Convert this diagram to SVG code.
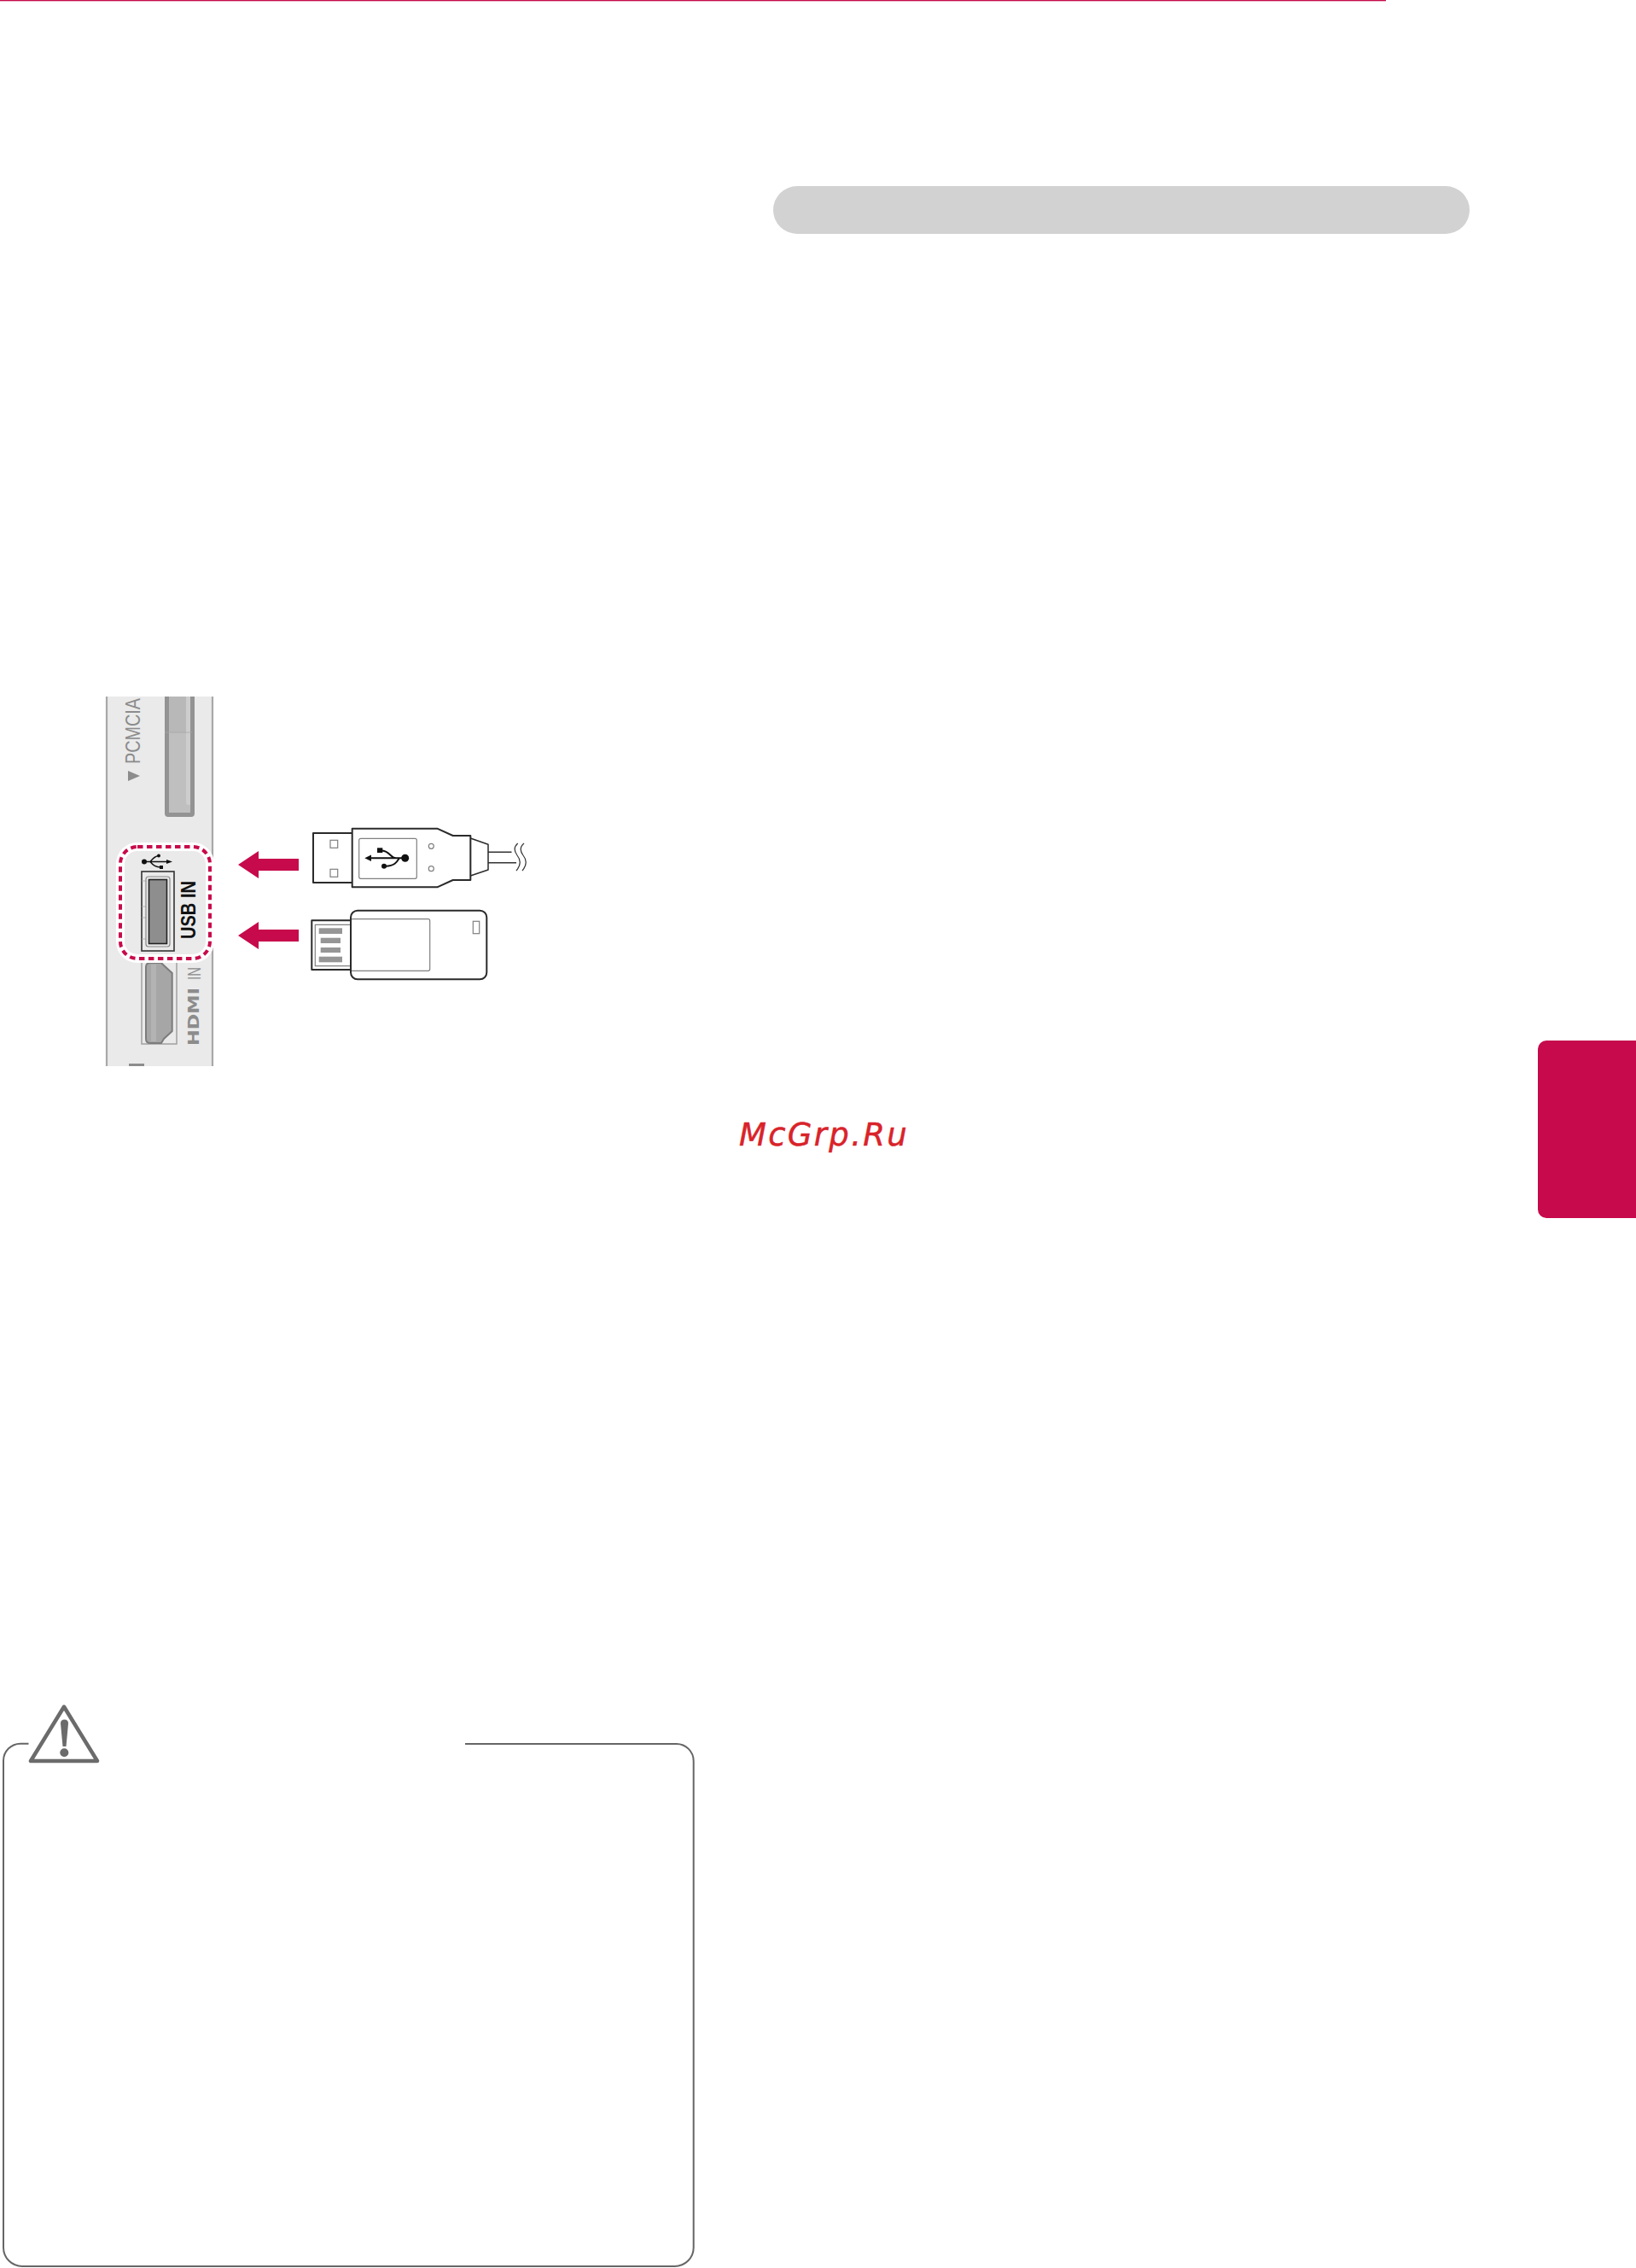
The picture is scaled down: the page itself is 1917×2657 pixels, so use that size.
<svg xmlns="http://www.w3.org/2000/svg" width="1917" height="2657" viewBox="0 0 1917 2657">
<style>
.acc{fill:#c60a4b}
.dark{fill:#fff;stroke:#2a2a2a;stroke-width:2;stroke-linejoin:round}
.thin{fill:#fff;stroke:#808080;stroke-width:1.2}
.bar{fill:#969696}
.lab{font-family:"Liberation Sans",Arial,sans-serif;fill:#8c8c8c}
.sym{fill:none;stroke:#111;stroke-width:2}
</style>
<rect width="1917" height="2657" fill="#fff"/>
<rect id="top-rule" width="1624" height="1.3" class="acc"/>
<rect id="heading-bar" x="906" y="218" width="816" height="56" rx="28" ry="28" fill="#d2d2d2"/>
<path id="side-tab" class="acc" d="M1917,1219H1812a10,10 0 0 0 -10,10V1417a10,10 0 0 0 10,10H1917Z"/>
<text id="watermark" x="866" y="1342" font-family="DejaVu Sans,sans-serif" font-style="italic" font-size="37" letter-spacing="2.3" fill="#d9232a" stroke="#d9232a" stroke-width="0.5">McGrp.Ru</text>

<g id="tv-panel">
<rect x="125" y="816" width="124" height="433" fill="#eaeaea"/>
<path d="M125,816V1249M249,816V1249" stroke="#a8a8a8" stroke-width="2.2" fill="none"/>
<rect x="151" y="1246" width="18" height="3" fill="#8c8c8c"/>
</g>
<g id="pcmcia-slot">
<path d="M193,816H228V953a4,4 0 0 1 -4,4H197a4,4 0 0 1 -4,-4Z" fill="#939393"/>
<rect x="198" y="816" width="25" height="136" fill="#bfbfbf"/>
<rect x="198" y="816" width="25" height="42" fill="#b8b8b8"/>
<path d="M218,816H223V943H221Q218,943 218,940Z" fill="#cdcdcd"/>
<path d="M193,858H225" stroke="#a6a6a6" stroke-width="0.8"/>
<text class="lab" transform="translate(164,895) rotate(-90)" font-size="23" textLength="77" lengthAdjust="spacingAndGlyphs">PCMCIA</text>
<polygon points="150,903 164,909 150,915" fill="#8c8c8c"/>
</g>
<g id="hdmi-port">
<rect x="166" y="1122" width="41" height="101" fill="none" stroke="#a0a0a0" stroke-width="1.5"/>
<path d="M176,1128H189L192,1131L201.7,1140V1208L192,1217L189,1222H176Q171,1222 171,1217V1133Q171,1128 176,1128Z" fill="#a6a6a6" stroke="#7c7c7c" stroke-width="2"/>
<rect x="177" y="1130" width="6" height="90" fill="#b3b3b3"/>
<text class="lab" transform="translate(235,1148) rotate(-90)" font-size="22" textLength="15" lengthAdjust="spacingAndGlyphs">IN</text>
<text class="lab" transform="translate(233,1225) rotate(-90)" font-size="17.5" textLength="68" lengthAdjust="spacingAndGlyphs" style="font-family:'DejaVu Sans',sans-serif;font-weight:bold">HDMI</text>
</g>
<g id="usb-port">
<rect x="141" y="992" width="105" height="131" rx="20" fill="#eaeaea" stroke="#fff" stroke-width="10"/>
<rect x="141" y="992" width="105" height="131" rx="20" fill="none" stroke="#c80a4b" stroke-width="4" stroke-dasharray="6.5 4.5"/>
<rect x="166" y="1021" width="38" height="93" fill="none" stroke="#333" stroke-width="1.6"/>
<path d="M166,1032H171M166,1062H171M166,1075H171M166,1100H171" stroke="#aaa" stroke-width="0.8"/>
<rect x="171" y="1027" width="28" height="82" rx="3" fill="#eaeaea" stroke="#888" stroke-width="1.2"/>
<rect x="174.5" y="1030.5" width="21" height="75" fill="#8e8e8e" stroke="#222" stroke-width="1.6"/>
<g>
<circle cx="169" cy="1009.5" r="3" fill="#111"/>
<path class="sym" style="stroke-width:1.4" d="M169,1009.5H197M176,1009.5Q181,1003 186,1002.5M176,1009.5Q181,1016 188,1016"/>
<polygon points="202,1009.5 195,1007 195,1012" fill="#111"/>
<circle cx="186" cy="1002.5" r="2" fill="#111"/>
<rect x="187" y="1014" width="4" height="4" fill="#111"/>
</g>
<text transform="translate(229,1100) rotate(-90)" font-family="Liberation Sans,Arial,sans-serif" font-weight="bold" font-size="23" textLength="68" lengthAdjust="spacingAndGlyphs" fill="#111">USB IN</text>
</g>
<g id="connectors">
<polygon class="acc" points="279,1013 303,997 303,1006 350,1006 350,1020 303,1020 303,1029"/>
<polygon class="acc" points="279,1096 303,1080 303,1089 350,1089 350,1103 303,1103 303,1112"/>
</g>
<g id="usb-plug">
<path d="M572,998.3H599.5M572,1010.7H605" stroke="#333" stroke-width="1.4" fill="none"/>
<path d="M606.7,988C601,993 603,998 606,1002C610,1007 611,1013 605,1020M614,988C608,993 610,998 613,1002C617,1007 618,1013 612,1020" stroke="#333" stroke-width="1.2" fill="none"/>
<rect class="dark" x="367" y="976" width="46" height="58"/>
<rect class="thin" x="387" y="984.3" width="8.7" height="9"/>
<rect class="thin" x="387" y="1018.3" width="8.7" height="9"/>
<polygon class="dark" style="stroke-width:1.5" points="551.3,982 572,989.3 572,1019 551.3,1026"/>
<polygon class="dark" points="412.7,970.7 512.3,970.7 530.7,979 551.3,979 551.3,1031 530.7,1031 512.3,1039.3 412.7,1039.3"/>
<rect class="thin" x="420.7" y="982.3" width="67.6" height="47" rx="2"/>
<circle class="thin" cx="505.3" cy="991.3" r="3"/>
<circle class="thin" cx="505.3" cy="1017.7" r="3"/>
<circle cx="474.7" cy="1005.3" r="4.5" fill="#111"/>
<path class="sym" d="M432,1005.3H474M448,996.5C456,997 458,1005 464,1005.3M452,1014.7C462,1014.7 465,1010 468,1005.3"/>
<polygon points="427.3,1005.3 435,1001.5 435,1009" fill="#111"/>
<rect x="442" y="993.3" width="6.3" height="5.7" fill="#111"/>
<circle cx="450" cy="1014.7" r="3" fill="#111"/>
</g>
<g id="usb-stick">
<rect class="dark" x="365.3" y="1078.3" width="47" height="57.7"/>
<path d="M412,1083.3H369.3V1131.7H412" fill="none" stroke="#808080" stroke-width="1.2"/>
<rect class="bar" x="373.7" y="1087.3" width="27.3" height="6.7"/>
<rect class="bar" x="375.7" y="1098.7" width="23.3" height="6.3"/>
<rect class="bar" x="375.7" y="1110" width="23.3" height="6"/>
<rect class="bar" x="373.7" y="1120.7" width="27.3" height="6.6"/>
<rect class="dark" x="411" y="1066.7" width="159.3" height="80.6" rx="8"/>
<path d="M412,1076.7H501.7a2,2 0 0 1 2,2V1135.3a2,2 0 0 1 -2,2H412" class="thin" style="fill:none"/>
<rect class="thin" x="554.3" y="1079.3" width="7.4" height="14.4"/>
</g>
<g id="caution-box">
<path d="M33.5,2042.7H24a20,20 0 0 0 -20,20V2633a22,22 0 0 0 22,22H790.7a22,22 0 0 0 22,-22V2063a20,20 0 0 0 -20,-20H545" fill="none" stroke="#666" stroke-width="2"/>
</g>
<g id="caution-icon">
<polygon points="75,1999.5 36,2063 114,2063" fill="#fff" stroke="#6b6b6b" stroke-width="4.5" stroke-linejoin="round"/>
<path d="M71,2019Q71,2014.5 75.5,2014.5Q80,2014.5 80,2019L77.5,2046H73.5Z" fill="#6b6b6b"/>
<circle cx="75.3" cy="2053.3" r="5" fill="#6b6b6b"/>
</g>
</svg>
